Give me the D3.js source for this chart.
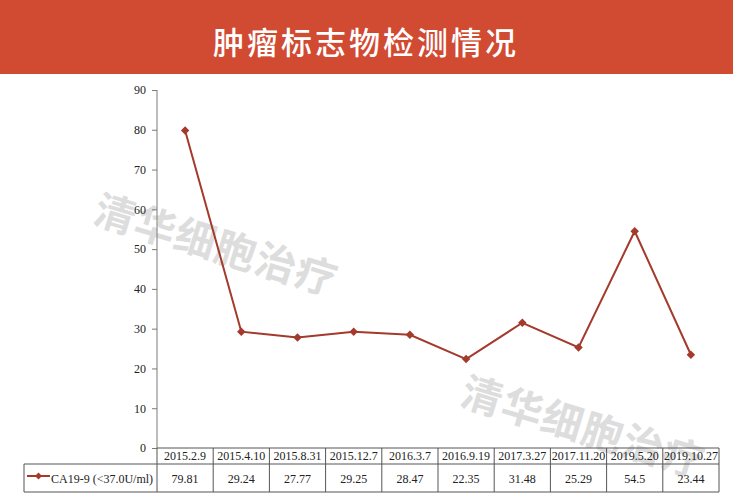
<!DOCTYPE html>
<html>
<head>
<meta charset="utf-8">
<script src="https://cdn.jsdelivr.net/npm/d3@7"></script>
<style>
  body { margin: 0; background: #fff; }
  svg text { font-family: "Liberation Serif", "DejaVu Serif", serif; }
</style>
</head>
<body>
<div id="chart"></div>
<script>
var dates = ["2015.2.9", "2015.4.10", "2015.8.31", "2015.12.7", "2016.3.7",
             "2016.9.19", "2017.3.27", "2017.11.20", "2019.5.20", "2019.10.27"];
var values = [79.81, 29.24, 27.77, 29.25, 28.47, 22.35, 31.48, 25.29, 54.5, 23.44];
var valueLabels = ["79.81", "29.24", "27.77", "29.25", "28.47", "22.35", "31.48", "25.29", "54.5", "23.44"];
var yTicks = [0, 10, 20, 30, 40, 50, 60, 70, 80, 90];
var seriesName = "CA19-9 (<37.0U/ml)";
var title = "肿瘤标志物检测情况";
var watermark = "清华细胞治疗";

(function () {
    var width = 735,
        height = 497;

    var svg = d3.select("#chart")
        .append("svg")
        .attr("width", width)
        .attr("height", height)

    var red = "#a33a2b"

    // title bar
    svg.append("rect")
        .attr("x", 0).attr("y", 0)
        .attr("width", 733).attr("height", 74)
        .attr("fill", "#d14a32")

    svg.append("text")
        .attr("x", 366).attr("y", 40)
        .attr("text-anchor", "middle")
        .attr("dominant-baseline", "central")
        .style("font-family", "'Noto Sans CJK SC', sans-serif")
        .style("font-size", "31px")
        .style("font-weight", "500")
        .attr("fill", "#fff")
        .attr("letter-spacing", "3px")
        .text(title)

    // watermarks
    var marks = [[217, 242], [584, 424]]
    marks.forEach(function (m) {
        svg.append("text")
            .attr("transform", "translate(" + m[0] + "," + m[1] + ") rotate(17)")
            .attr("text-anchor", "middle")
            .attr("dominant-baseline", "central")
            .style("font-family", "'Noto Sans CJK SC', sans-serif")
            .style("font-size", "41px")
            .style("font-weight", "bold")
            .attr("fill", "#dddddd")
            .attr("letter-spacing", "1px")
            .text(watermark)
    })

    var x = d3.scaleBand().domain(dates).range([157, 719])
    var y = d3.scaleLinear().domain([0, 90]).range([448, 90])

    // y axis
    var yAxis = d3.axisLeft(y).tickValues(yTicks).tickSize(5).tickPadding(6)
    var gy = svg.append("g")
        .attr("transform", "translate(157,0)")
        .call(yAxis)
    gy.select(".domain").attr("stroke", "#7a7a7a").attr("d", "M0,90V448")
    gy.selectAll(".tick line").attr("stroke", "#7a7a7a")
    gy.selectAll(".tick text")
        .style("font-family", "'Liberation Serif', serif")
        .style("font-size", "12px")
        .attr("fill", "#222")

    // line
    var line = d3.line()
        .x(function (d, i) { return x(dates[i]) + x.bandwidth() / 2 })
        .y(function (d) { return y(d) })

    svg.append("path")
        .datum(values)
        .attr("d", line)
        .attr("fill", "none")
        .attr("stroke", red)
        .attr("stroke-width", 2)

    // small square markers turned 45 degrees
    svg.selectAll(".pt")
        .data(values)
        .enter().append("rect")
        .attr("class", "pt")
        .attr("x", -3).attr("y", -3)
        .attr("width", 6).attr("height", 6)
        .attr("transform", function (d, i) {
            return "translate(" + (x(dates[i]) + x.bandwidth() / 2) + "," + y(d) + ") rotate(45)"
        })
        .attr("fill", red)

    // data table
    var tbl = svg.append("g")
    var rowTop = 448, rowMid = 464, rowBot = 492, leftCell = 24
    var stroke = "#555"

    tbl.append("line").attr("x1", 157).attr("x2", 719).attr("y1", rowTop).attr("y2", rowTop).attr("stroke", stroke)
    tbl.append("line").attr("x1", leftCell).attr("x2", 719).attr("y1", rowMid).attr("y2", rowMid).attr("stroke", stroke)
    tbl.append("line").attr("x1", leftCell).attr("x2", 719).attr("y1", rowBot).attr("y2", rowBot).attr("stroke", stroke)
    tbl.append("line").attr("x1", leftCell).attr("x2", leftCell).attr("y1", rowMid).attr("y2", rowBot).attr("stroke", stroke)

    var edges = dates.map(function (d) { return x(d) }).concat([719])
    tbl.selectAll(".vline")
        .data(edges)
        .enter().append("line")
        .attr("x1", function (d) { return d }).attr("x2", function (d) { return d })
        .attr("y1", rowTop).attr("y2", rowBot)
        .attr("stroke", stroke)

    tbl.selectAll(".hdr")
        .data(dates)
        .enter().append("text")
        .attr("x", function (d) { return x(d) + x.bandwidth() / 2 })
        .attr("y", 456)
        .attr("text-anchor", "middle")
        .attr("dominant-baseline", "central")
        .style("font-size", "12px")
        .attr("fill", "#222")
        .text(function (d) { return d })

    tbl.selectAll(".val")
        .data(valueLabels)
        .enter().append("text")
        .attr("x", function (d, i) { return x(dates[i]) + x.bandwidth() / 2 })
        .attr("y", 479)
        .attr("text-anchor", "middle")
        .attr("dominant-baseline", "central")
        .style("font-size", "12px")
        .attr("fill", "#222")
        .text(function (d) { return d })

    // legend key inside table
    tbl.append("line")
        .attr("x1", 27).attr("x2", 50).attr("y1", 476).attr("y2", 476)
        .attr("stroke", red).attr("stroke-width", 2)
    tbl.append("rect")
        .attr("x", -2.5).attr("y", -2.5)
        .attr("width", 5).attr("height", 5)
        .attr("transform", "translate(38.5,476) rotate(45)")
        .attr("fill", red)
    tbl.append("text")
        .attr("x", 51).attr("y", 479)
        .attr("dominant-baseline", "central")
        .style("font-size", "12px")
        .attr("fill", "#222")
        .text(seriesName)
})();
</script>
</body>
</html>
